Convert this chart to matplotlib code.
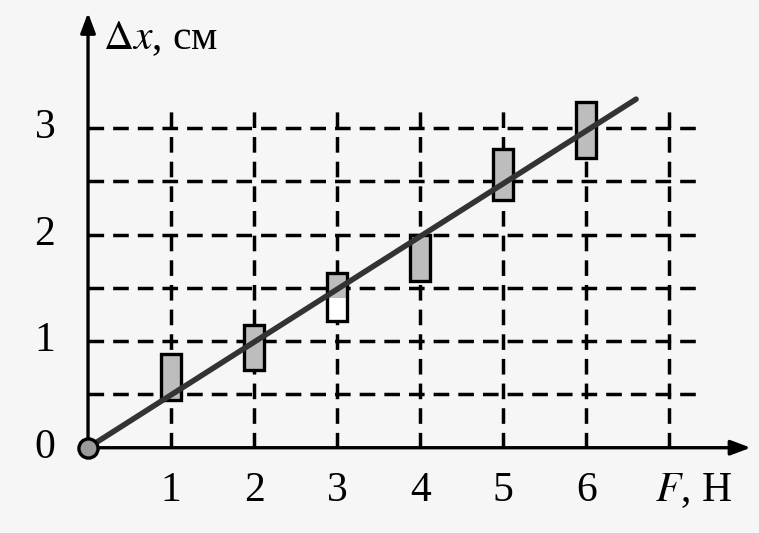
import matplotlib
matplotlib.use("Agg")
import matplotlib.pyplot as plt
from matplotlib.patches import Rectangle

plt.rcParams['font.family'] = ['Liberation Serif', 'DejaVu Serif']
plt.rcParams['mathtext.fontset'] = 'stix'
plt.rcParams['hatch.color'] = '#666666'
plt.rcParams['hatch.linewidth'] = 1.0

# Data
forces = [1, 2, 3, 4, 5, 6]
dx_low = [0.45, 0.73, 1.19, 1.56, 2.32, 2.72]
dx_high = [0.88, 1.15, 1.64, 2.00, 2.80, 3.24]
shade_from = [0.45, 0.73, 1.40, 1.56, 2.32, 2.72]
x_ticks = [1, 2, 3, 4, 5, 6]
y_ticks = [1, 2, 3]
x_grid = [1, 2, 3, 4, 5, 6, 7]
y_grid = [0.5, 1, 1.5, 2, 2.5, 3]
fit_x = [0, 6.6]
fit_y = [0, 3.27]

fig = plt.figure(figsize=(7.59, 5.33), dpi=100)
fig.patch.set_facecolor('#f6f6f6')
ax = fig.add_axes([0, 0, 1, 1])
ax.set_facecolor('#f6f6f6')
ax.set_xlim(-1.06, 8.08)
ax.set_ylim(-0.80, 4.20)
ax.axis('off')

dash = (0, (4.5, 2.6))
for gx in x_grid:
    ax.plot([gx, gx], [0, 3.2], color='black', lw=2.5, linestyle=dash, zorder=1)
for gy in y_grid:
    ax.plot([0, 7.35], [gy, gy], color='black', lw=2.5, linestyle=dash, zorder=1)

# axes with arrows
ax.annotate('', xy=(7.98, 0), xytext=(0, 0),
            arrowprops=dict(arrowstyle='-|>,head_length=1.2,head_width=0.45', lw=2.4, color='black', shrinkA=0, shrinkB=0), zorder=3)
ax.annotate('', xy=(0, 4.08), xytext=(0, 0),
            arrowprops=dict(arrowstyle='-|>,head_length=1.2,head_width=0.45', lw=2.4, color='black', shrinkA=0, shrinkB=0), zorder=3)

w = 0.24
for f, lo, hi, sf in zip(forces, dx_low, dx_high, shade_from):
    ax.add_patch(Rectangle((f - w / 2, lo), w, hi - lo, facecolor='white',
                           edgecolor='none', zorder=4))
    ax.add_patch(Rectangle((f - w / 2, sf), w, hi - sf, facecolor='#bdbdbd',
                           edgecolor='none', hatch='.....', zorder=4))
    ax.add_patch(Rectangle((f - w / 2, lo), w, hi - lo, facecolor='none',
                           edgecolor='black', lw=2.4, zorder=5))

ax.plot(fit_x, fit_y, color='#333333', lw=4, solid_capstyle='round', zorder=6)

ax.scatter([0], [0], s=190, facecolor='#9a9a9a', edgecolor='black', linewidths=2.4, zorder=7)

for t in x_ticks:
    ax.text(t, -0.40, str(t), ha='center', va='center', fontsize=30)
for t in y_ticks:
    ax.text(-0.52, t, str(t), ha='center', va='center', fontsize=30)
ax.text(-0.52, 0, '0', ha='center', va='center', fontsize=30)

ax.text(0.18, 3.84, r'$\Delta x$, см', ha='left', va='center', fontsize=30)
ax.text(6.83, -0.40, r'$F$, Н', ha='left', va='center', fontsize=30)

fig.savefig('out.png', dpi=100, facecolor=fig.get_facecolor())
